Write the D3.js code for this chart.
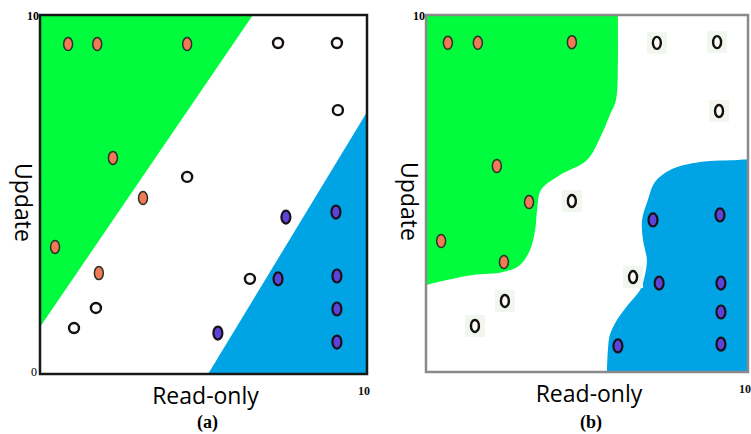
<!DOCTYPE html>
<html>
<head>
<meta charset="utf-8">
<script src="https://cdn.jsdelivr.net/npm/d3@7"></script>
<style>
  body { margin: 0; background: #fff; }
  svg { display: block; }
</style>
</head>
<body>
<div id="chart"></div>
<script>
// tick labels shared by both panels
const tickLabels = {top: "10", origin: "0", right: "10"};
const xLabel = "Read-only";
const yLabel = "Update";

// panel (a): linear boundaries
const orangeA = [[0.86, 9.19], [1.75, 9.19], [4.5, 9.19], [2.23, 6.02], [3.15, 4.9], [0.46, 3.54], [1.8, 2.81]];
const whiteA = [[7.28, 9.22], [9.08, 9.22], [9.11, 7.35], [4.5, 5.49], [6.42, 2.65], [1.71, 1.84], [1.04, 1.28]];
const blueA = [[7.52, 4.37], [9.05, 4.51], [7.28, 2.65], [9.08, 2.73], [9.08, 1.81], [9.08, 0.89], [5.44, 1.14]];
const greenRegionA = [[0, 10], [6.51, 10], [0, 1.31]];
const blueRegionA = [[10, 7.3], [10, 0], [5.14, 0]];

// panel (b): curved boundaries
const orangeB = [[0.68, 9.22], [1.61, 9.22], [4.53, 9.24], [2.2, 5.77], [3.2, 4.76], [0.47, 3.67], [2.42, 3.08]];
const whiteB = [[7.17, 9.22], [9.04, 9.24], [9.1, 7.31], [4.53, 4.79], [6.43, 2.66], [2.45, 1.99], [1.52, 1.29]];
const blueB = [[7.05, 4.26], [9.13, 4.4], [7.24, 2.49], [9.16, 2.49], [9.16, 1.68], [9.16, 0.78], [5.96, 0.73]];
const greenEdgeB = [[5.96, 10], [5.96, 8.74], [5.9, 7.62], [5.71, 7.2], [5.47, 6.69], [5.0, 5.94], [4.16, 5.52],
  [3.57, 5.1], [3.45, 4.54], [3.39, 3.98], [3.23, 3.42], [2.92, 3.0], [2.39, 2.8], [1.46, 2.72], [0.65, 2.58], [0, 2.44]];
const blueEdgeB = [[10, 5.96], [9.69, 5.94], [8.51, 5.88], [7.58, 5.66], [7.11, 5.32], [6.89, 4.82], [6.71, 4.26],
  [6.74, 3.7], [6.86, 3.14], [6.8, 2.72], [6.65, 2.3], [6.27, 1.88], [5.93, 1.46], [5.71, 1.04], [5.65, 0.62], [5.62, 0]];

const colors = {green: "#00fc3c", blue: "#00a4e4", orange: "#f07a55", violet: "#5a45d8"};

const svg = d3.select("#chart").append("svg")
  .attr("width", 751)
  .attr("height", 434);

function drawPanel(cfg) {
  const x = d3.scaleLinear().domain([0, 10]).range([cfg.left, cfg.right]);
  const y = d3.scaleLinear().domain([0, 10]).range([cfg.bottom, cfg.top]);
  const g = svg.append("g");

  const clipId = "clip-" + cfg.name;
  g.append("clipPath").attr("id", clipId)
    .append("rect")
    .attr("x", cfg.left).attr("y", cfg.top)
    .attr("width", cfg.right - cfg.left).attr("height", cfg.bottom - cfg.top);

  const regions = g.append("g").attr("clip-path", `url(#${clipId})`);

  if (cfg.curved) {
    const edge = d3.line().x(d => x(d[0])).y(d => y(d[1])).curve(d3.curveCatmullRom.alpha(0.5));
    regions.append("path")
      .attr("fill", colors.green)
      .attr("d", edge(cfg.greenEdge) + `L${x(0)},${y(10)}Z`);
    regions.append("path")
      .attr("fill", colors.blue)
      .attr("d", edge(cfg.blueEdge) + `L${x(10)},${y(0)}Z`);
  } else {
    const poly = d3.line().x(d => x(d[0])).y(d => y(d[1]));
    regions.append("path").attr("fill", colors.green).attr("d", poly(cfg.greenRegion) + "Z");
    regions.append("path").attr("fill", colors.blue).attr("d", poly(cfg.blueRegion) + "Z");
  }

  g.append("rect")
    .attr("x", cfg.left).attr("y", cfg.top)
    .attr("width", cfg.right - cfg.left).attr("height", cfg.bottom - cfg.top)
    .attr("fill", "none")
    .attr("stroke", cfg.frameColor)
    .attr("stroke-width", cfg.frameWidth);

  // open markers
  if (cfg.curved) {
    g.selectAll(".wbg").data(cfg.white).enter().append("rect")
      .attr("x", d => x(d[0]) - 10).attr("y", d => y(d[1]) - 11)
      .attr("width", 20).attr("height", 22)
      .attr("fill", "#f1f7ee");
  }
  g.selectAll(".white").data(cfg.white).enter().append("ellipse")
    .attr("cx", d => x(d[0])).attr("cy", d => y(d[1]))
    .attr("rx", cfg.curved ? 4 : 5).attr("ry", cfg.curved ? 6 : 5)
    .attr("fill", "#fffaf8")
    .attr("stroke", "#111")
    .attr("stroke-width", 2.4);

  g.selectAll(".orange").data(cfg.orange).enter().append("ellipse")
    .attr("cx", d => x(d[0])).attr("cy", d => y(d[1]))
    .attr("rx", 4.5).attr("ry", 6.5)
    .attr("fill", colors.orange)
    .attr("stroke", "#2b3328")
    .attr("stroke-width", 1.5);

  g.selectAll(".blue").data(cfg.blue).enter().append("ellipse")
    .attr("cx", d => x(d[0])).attr("cy", d => y(d[1]))
    .attr("rx", 4.5).attr("ry", 6.5)
    .attr("fill", colors.violet)
    .attr("stroke", "#1c0f1a")
    .attr("stroke-width", 2.2);

  const serif = "'Liberation Serif', 'Times New Roman', serif";
  g.append("text")
    .attr("x", cfg.left - 1).attr("y", cfg.top + 5)
    .attr("text-anchor", "end")
    .style("font", `bold 12px ${serif}`)
    .text(tickLabels.top);
  g.append("text")
    .attr("x", cfg.left - 3).attr("y", cfg.bottom + 2)
    .attr("text-anchor", "end")
    .style("font", `12px ${serif}`)
    .text(cfg.curved ? "" : tickLabels.origin);
  g.append("text")
    .attr("x", cfg.right - 3).attr("y", cfg.bottom + 21)
    .attr("text-anchor", "middle")
    .attr("fill", "#111")
    .style("font", `bold 12px ${serif}`)
    .text(tickLabels.right);

  g.append("text")
    .attr("x", (cfg.left + cfg.right) / 2 + 2).attr("y", cfg.bottom + 30)
    .attr("text-anchor", "middle")
    .style("font", "23px 'Open Sans', sans-serif")
    .text(xLabel);

  g.append("text")
    .attr("transform", `translate(${cfg.left - 25},${(cfg.top + cfg.bottom) / 2 + 8}) rotate(90)`)
    .attr("text-anchor", "middle")
    .style("font", "23px 'Open Sans', sans-serif")
    .text(yLabel);

  g.append("text")
    .attr("x", (cfg.left + cfg.right) / 2 + 4).attr("y", 428)
    .attr("text-anchor", "middle")
    .style("font", `bold 18px ${serif}`)
    .text(cfg.caption);
}

drawPanel({
  name: "a", caption: "(a)", curved: false,
  left: 40, right: 367, top: 15, bottom: 374,
  frameColor: "#161a16", frameWidth: 2.5,
  orange: orangeA, white: whiteA, blue: blueA,
  greenRegion: greenRegionA, blueRegion: blueRegionA
});

drawPanel({
  name: "b", caption: "(b)", curved: true,
  left: 426, right: 748, top: 15, bottom: 372,
  frameColor: "#8a8a8a", frameWidth: 2.5,
  orange: orangeB, white: whiteB, blue: blueB,
  greenEdge: greenEdgeB, blueEdge: blueEdgeB
});
</script>
</body>
</html>
